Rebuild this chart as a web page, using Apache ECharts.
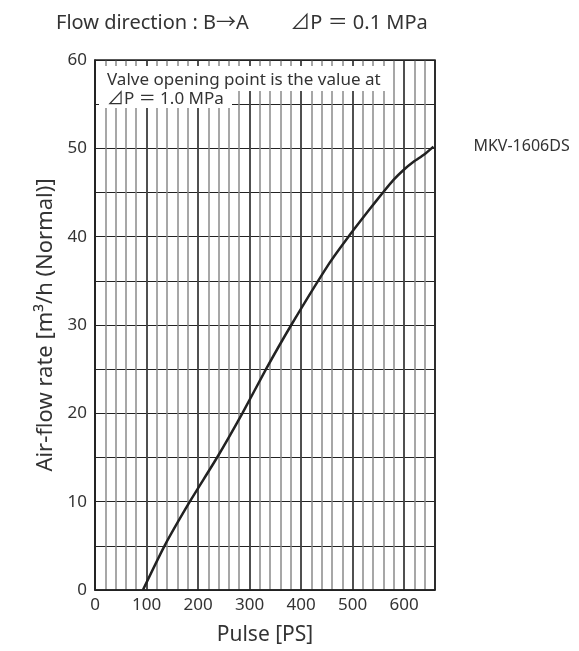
<!DOCTYPE html>
<html>
<head>
<meta charset="utf-8">
<script src="https://cdn.jsdelivr.net/npm/echarts@6/dist/echarts.min.js"></script>
<style>html,body{margin:0;padding:0;background:#fff;}#c{width:579px;height:651px;}</style>
</head>
<body>
<div id="c"></div>
<script>
const pulse = [93, 135, 184, 237, 286, 332, 381, 455, 492, 533, 559, 579, 600, 619, 639, 657];
const flow  = [0, 5, 10, 15, 20, 25, 30, 37, 40, 43.1, 45, 46.4, 47.6, 48.5, 49.3, 50.2];
const xTicks = [0, 100, 200, 300, 400, 500, 600];
const yTicks = [0, 10, 20, 30, 40, 50, 60];
const seriesName = 'MKV-1606DS';
const titleText = 'Flow direction : B\u2192A        \u22BFP \uFF1D 0.1 MPa';
const noteLine1 = 'Valve opening point is the value at';
const noteLine2 = '\u22BFP \uFF1D 1.0 MPa';

const FONT = '"Noto Sans", "Noto Sans CJK JP", sans-serif';
const chart = echarts.init(document.getElementById('c'));
const points = pulse.map((p, i) => [p, flow[i]]);

chart.setOption({
  animation: false,
  textStyle: { fontFamily: FONT },
  title: {
    text: titleText, left: 51, top: 8,
    textStyle: { fontFamily: FONT, fontSize: 20, fontWeight: 'normal', color: '#333' }
  },
  grid: { left: 95, right: 144, top: 60, bottom: 61, show: false },
  xAxis: [
    {
      type: 'value', min: 0, max: 660, interval: 20, position: 'bottom',
      axisLine: { show: false }, axisTick: { show: false }, axisLabel: { show: false },
      splitLine: { show: true, lineStyle: { color: '#8a8a8a', width: 1.5 } }
    },
    {
      type: 'value', min: 0, max: 660, interval: 100, position: 'bottom',
      name: 'Pulse [PS]', nameLocation: 'middle', nameGap: 35,
      nameTextStyle: { fontFamily: FONT, fontSize: 21, color: '#333' },
      axisLine: { show: true, lineStyle: { color: '#222', width: 1.5 } },
      axisTick: { show: false },
      axisLabel: {
        fontFamily: FONT, fontSize: 17, color: '#333', margin: 7,
        formatter: v => xTicks.includes(v) ? String(v) : ''
      },
      splitLine: { show: true, lineStyle: { color: '#333', width: 1.5 } }
    }
  ],
  yAxis: {
    type: 'value', min: 0, max: 60, interval: 5,
    name: 'Air-flow rate [m\u00B3/h (Normal)]', nameLocation: 'middle', nameGap: 38,
    nameTextStyle: { fontFamily: FONT, fontSize: 22, color: '#333' },
    axisLine: { show: true, lineStyle: { color: '#222', width: 1.5 } },
    axisTick: { show: false },
    axisLabel: {
      fontFamily: FONT, fontSize: 17, color: '#333', margin: 8,
      formatter: v => yTicks.includes(v) ? String(v) : ''
    },
    splitLine: { show: true, lineStyle: { color: '#222', width: 1.2 } }
  },
  graphic: [
    { type: 'rect', z: 100, shape: { x: 97, y: 66, width: 295, height: 25 }, style: { fill: '#fff' } },
    { type: 'rect', z: 100, shape: { x: 99, y: 91, width: 133, height: 17 }, style: { fill: '#fff' } },
    { type: 'text', z: 101, x: 107, y: 80, style: { text: noteLine1, font: '17px ' + FONT, fill: '#333', verticalAlign: 'middle' } },
    { type: 'text', z: 101, x: 107, y: 99, style: { text: noteLine2, font: '17px ' + FONT, fill: '#333', verticalAlign: 'middle' } },
    { type: 'rect', z: 102, shape: { x: 95, y: 60, width: 340, height: 530 }, style: { fill: 'none', stroke: '#222', lineWidth: 1.5 } }
  ],
  series: [{
    name: seriesName, type: 'line', xAxisIndex: 1, data: points,
    smooth: 0.2, showSymbol: false,
    lineStyle: { color: '#222', width: 2.5 },
    endLabel: {
      show: true, formatter: seriesName, distance: 40,
      fontFamily: FONT, fontSize: 16, color: '#333'
    }
  }]
});
</script>
</body>
</html>
